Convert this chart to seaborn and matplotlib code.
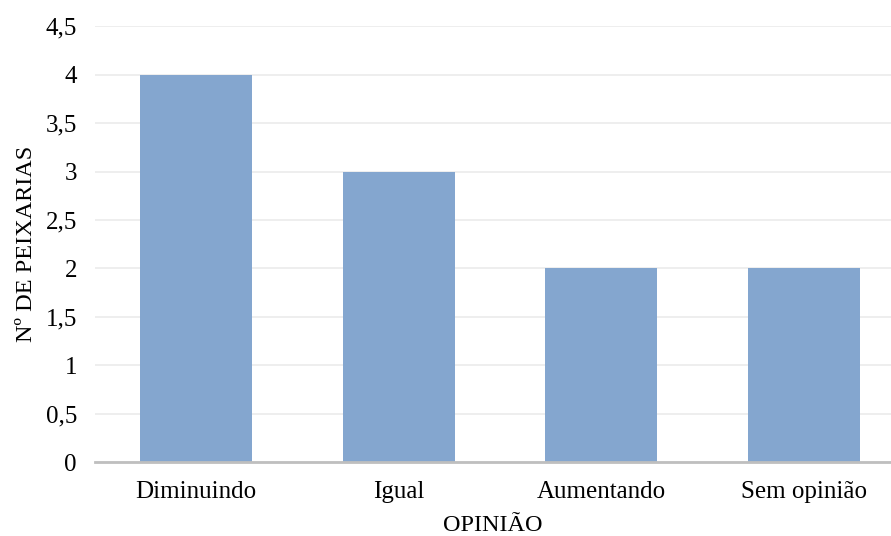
import seaborn as sns
import matplotlib.pyplot as plt
import pandas as pd

# Data
opinioes = ["Diminuindo", "Igual", "Aumentando", "Sem opinião"]
peixarias = [4, 3, 2, 2]

df = pd.DataFrame({"opiniao": opinioes, "n": peixarias})

sns.set_style("white")
plt.rcParams['font.family'] = ['Liberation Serif', 'DejaVu Serif']
plt.rcParams['text.color'] = 'black'
plt.rcParams['axes.labelcolor'] = 'black'
plt.rcParams['xtick.color'] = 'black'
plt.rcParams['ytick.color'] = 'black'

fig = plt.figure(figsize=(8.91, 5.36), dpi=100)
ax = fig.add_axes([0.1066, 0.138, 0.8934, 0.813])

sns.barplot(x="opiniao", y="n", data=df, color="#84A6CF", width=0.553,
            saturation=1, linewidth=0, ax=ax, zorder=3)

# Tweak the visual presentation
ax.set_ylim(0, 4.5)
ax.set_xlim(-0.5, 3.43)
yt = [i * 0.5 for i in range(10)]
ax.set_yticks(yt)
ax.set_yticklabels([("%g" % v).replace(".", ",") for v in yt], fontsize=18)
ax.tick_params(axis="x", labelsize=18, length=0, pad=14)
ax.tick_params(axis="y", length=0, pad=13)
ax.yaxis.grid(True, color="#EDEDED", linewidth=1.3, zorder=0)
ax.set_axisbelow(True)
for s in ["top", "right", "left"]:
    ax.spines[s].set_visible(False)
ax.spines["bottom"].set_color("#BFBFBF")
ax.spines["bottom"].set_linewidth(2)
ax.spines["bottom"].set_zorder(4)

ax.set_xlabel("OPINIÃO", fontsize=17.5, labelpad=8)
ax.set_ylabel("Nº DE PEIXARIAS", fontsize=17.5, labelpad=6)

fig.savefig("out.png", dpi=100)
